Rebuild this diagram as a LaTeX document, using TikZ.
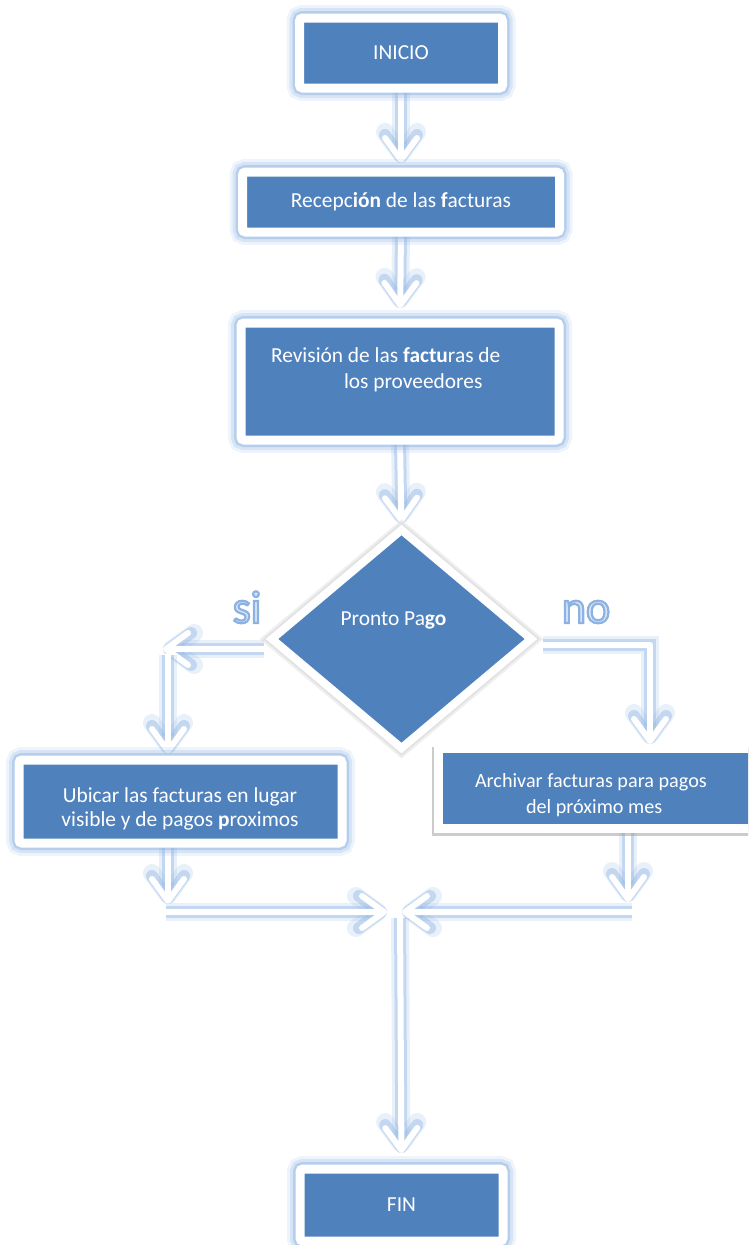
\documentclass[tikz,border=0pt]{standalone}
\usepackage{fontspec}
\setmainfont{Carlito}
\usetikzlibrary{arrows.meta,shapes.geometric,backgrounds}
\definecolor{boxblue}{HTML}{4F81BD}
\definecolor{glowblue}{HTML}{8DB3E2}
\definecolor{palelabel}{HTML}{DCE6F2}
% outlined lettering: fill in the current colour, stroke in a soft blue
\newcommand{\outlined}[1]{%
  \special{pdf:literal direct 2 Tr 2.2 w 0.55 0.70 0.89 RG}#1\special{pdf:literal direct 0 Tr}}

\begin{document}
\begin{tikzpicture}[x=1pt,y=-1pt,
  every node/.style={font=\fontsize{21.4}{26}\selectfont, text=white, inner sep=0pt, outer sep=0pt},
  % blue process box with a white frame and a soft blue halo
  stepbox/.style={rectangle, fill=boxblue, draw=white, line width=9pt, rounded corners=3pt,
    preaction={draw=glowblue, line width=26pt, opacity=0.15},
    preaction={draw=glowblue, line width=20pt, opacity=0.25},
    preaction={draw=glowblue, line width=14pt, opacity=0.45}},
  % same box, with a grey drop shadow instead of the halo
  shadowbox/.style={rectangle, fill=boxblue, draw=white, line width=9pt,
    preaction={draw=black!40, line width=9pt, opacity=0.5,
      transform canvas={shift={(-2pt,-3pt)}}}},
  decision/.style={diamond, fill=boxblue, draw=white, line width=8pt,
    minimum width=259pt, minimum height=218pt,
    preaction={draw=black!25, line width=16pt, opacity=0.25},
    preaction={draw=black!20, line width=12pt, opacity=0.35}},
  % white connector with a blue halo
  link/.style={draw=white, line width=6pt, line cap=round, line join=round,
    preaction={draw=glowblue, line width=18pt, opacity=0.2},
    preaction={draw=glowblue, line width=12pt, opacity=0.4}},
  flow/.style={link, -{Straight Barb[length=22pt, width=32pt, round]}},
  txt/.style={align=center},
  branch/.style={font=\fontsize{46}{46}\selectfont, text=palelabel, anchor=base}
]
\clip (0,0) rectangle (748,1245);
\useasboundingbox (0,0) rectangle (748,1245);

% process steps
\node[stepbox, minimum width=203pt, minimum height=70pt] (inicio) at (401,53) {INICIO};
\node[stepbox, minimum width=317pt, minimum height=60pt] (recep) at (401,202)
  {Recepc\textbf{ión} de las \textbf{f}acturas};
\node[stepbox, minimum width=318pt, minimum height=117pt] (revis) at (400,381.5) {};
\node[txt, align=left, anchor=west] (revistxt) at (271,370)
  {Revisión de las \textbf{factu}ras de\\\hspace*{73pt}los proveedores};

% decision
\node[decision] (pago) at (401.5,639) {};
\node (pagotxt) at (393.5,620) {Pronto Pa\textbf{go}};
\node[branch] (si) at (247,623) {\outlined{si}};
\node[branch] (no) at (586,623) {\outlined{no}};

% branches
\node[stepbox, minimum width=323pt, minimum height=83pt] (ubicar) at (180.5,801.5) {};
\node[txt, font=\fontsize{21.4}{24.5}\selectfont] (ubicartxt) at (180,809)
  {Ubicar las facturas en lugar\\visible y de pagos \textbf{p}roximos};
\node[shadowbox, minimum width=342pt, minimum height=80pt] (archivar) at (609,788) {};
\node[align=left, anchor=west, font=\fontsize{20.2}{26}\selectfont] (archivartxt) at (475,795)
  {Archivar facturas para pagos\\\hspace*{51pt}del próximo mes};

\node[stepbox, minimum width=203pt, minimum height=72pt] (fin) at (401.5,1205) {FIN};

% corners and merge point of the connectors
\coordinate (sistart) at (264,649);
\coordinate (sicorner) at (163,649);
\coordinate (sidrop) at (168,655);
\coordinate (nostart) at (543,645);
\coordinate (nocorner) at (650,645);
\coordinate (ldrop) at (168,904);
\coordinate (lstart) at (166,912);
\coordinate (rdrop) at (628,902);
\coordinate (rstart) at (632,912);
\coordinate (join) at (400,912);

\begin{scope}[on background layer]
  \draw[flow, shorten >=9pt] (inicio.south) -- (recep.north);
  \draw[flow, shorten >=15pt] (recep.south) -- (revis.north);
  \draw[flow, shorten >=7pt] (revis.south) -- (pago.north);
  \draw[flow] (sistart) -- (sicorner);
  \draw[flow, shorten >=6pt] (sidrop) -- (sidrop |- ubicar.north);
  \draw[flow, shorten >=4pt] (nostart) -- (nocorner) -- (nocorner |- archivar.north);
  \draw[flow] (ldrop |- ubicar.south) -- (ldrop);
  \draw[flow] (rdrop |- archivar.south) -- (rdrop);
  \draw[flow, shorten >=13pt] (lstart) -- (join);
  \draw[flow, shorten >=2pt] (rstart) -- (join);
  \draw[flow, shorten <=6pt, shorten >=16pt] (join) -- (fin.north);
\end{scope}
\end{tikzpicture}
\end{document}
